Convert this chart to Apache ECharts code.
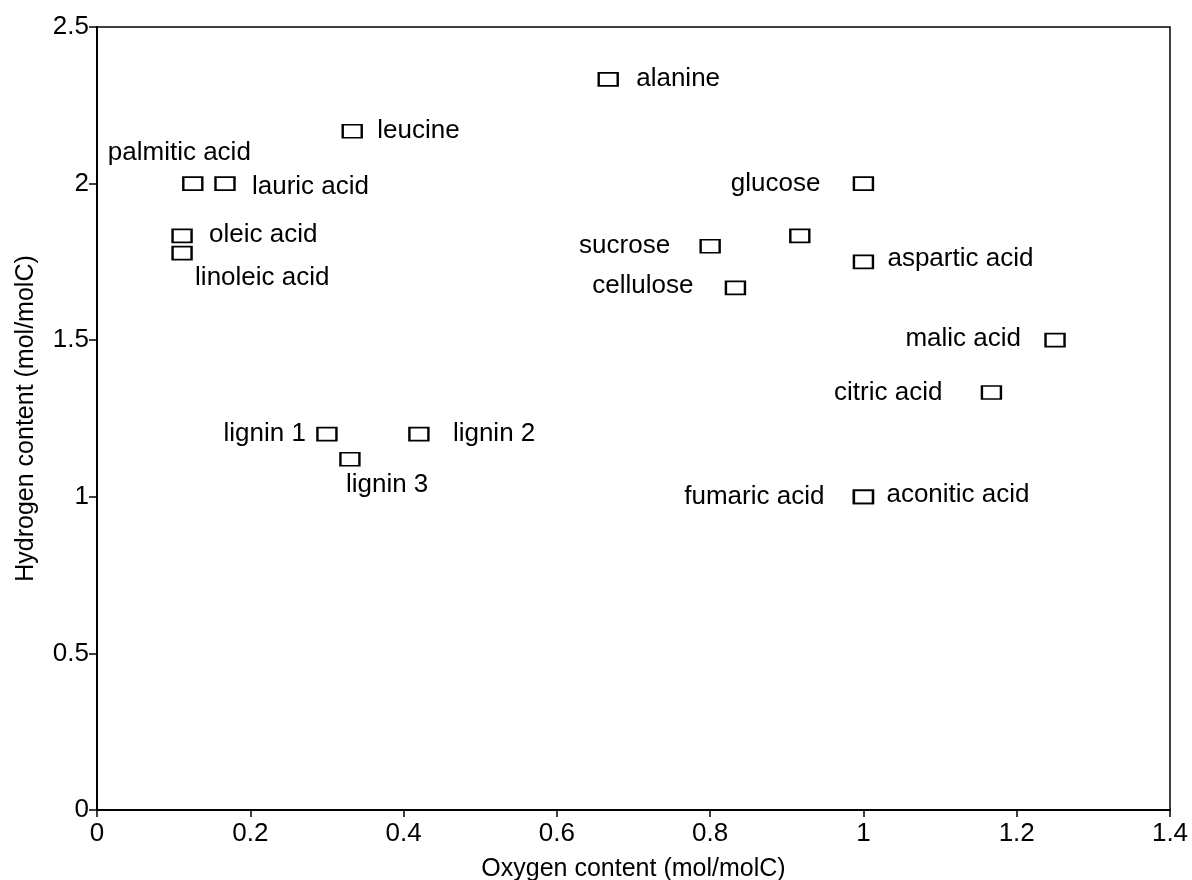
<!DOCTYPE html>
<html>
<head>
    <meta charset="utf-8">
    <title>ECharts</title>
    <script src="https://cdn.jsdelivr.net/npm/echarts@6/dist/echarts.min.js"></script>
</head>
<body style="margin:0">
    <div id="main" style="width:1192px; height:880px;"></div>

    <script type="text/javascript">

        // compounds, O/C and H/C in mol/molC
        var names = ['alanine', 'leucine', 'palmitic acid', 'lauric acid', 'oleic acid', 'linoleic acid',
                     'glucose', '', 'sucrose', 'cellulose', 'aspartic acid', 'malic acid', 'citric acid',
                     'fumaric acid', 'aconitic acid', 'lignin 1', 'lignin 2', 'lignin 3'];
        var oxygen = [0.667, 0.333, 0.125, 0.167, 0.111, 0.111,
                      1.0, 0.917, 0.8, 0.833, 1.0, 1.25, 1.167,
                      1.0, 1.0, 0.3, 0.42, 0.33];
        var hydrogen = [2.333, 2.167, 2.0, 2.0, 1.833, 1.778,
                        2.0, 1.833, 1.8, 1.667, 1.75, 1.5, 1.333,
                        1.0, 1.0, 1.2, 1.2, 1.12];

        // where each label sits around its marker: [align, dx, dy]
        var labelPlace = {
            'alanine': ['left', 28, 0],
            'leucine': ['left', 25, 0],
            'palmitic acid': ['left', -85, -31],
            'lauric acid': ['left', 27, 3],
            'oleic acid': ['left', 27, -1],
            'linoleic acid': ['left', 13, 25],
            'glucose': ['right', -43, 0],
            'sucrose': ['right', -40, 0],
            'cellulose': ['right', -42, -2],
            'aspartic acid': ['left', 24, -3],
            'malic acid': ['right', -34, -1],
            'citric acid': ['right', -49, 0],
            'fumaric acid': ['right', -39, 0],
            'aconitic acid': ['left', 23, -2],
            'lignin 1': ['right', -21, 0],
            'lignin 2': ['left', 34, 0],
            'lignin 3': ['left', -4, 26]
        };

        var font = 'Liberation Sans, Arial, Helvetica, sans-serif';

        var points = names.map(function(name, i) {
            var p = labelPlace[name];
            var item = {name: name, value: [oxygen[i], hydrogen[i]]};
            if (p) {
                item.label = {show: true, position: 'inside', align: p[0], verticalAlign: 'middle', offset: [p[1], p[2]]};
            } else {
                item.label = {show: false};
            }
            return item;
        });

        var myChart = echarts.init(document.getElementById('main'));

        myChart.setOption({
            animation: false,
            backgroundColor: '#fff',
            textStyle: {fontFamily: font},
            grid: {
                left: 97,
                right: 22,
                top: 27,
                bottom: 70,
                outerBoundsMode: 'none',
                containLabel: false,
                show: true,
                borderColor: '#000',
                borderWidth: 1.5,
                backgroundColor: 'transparent'
            },
            xAxis: {
                type: 'value',
                min: 0,
                max: 1.4,
                interval: 0.2,
                name: 'Oxygen content (mol/molC)',
                nameLocation: 'middle',
                nameGap: 47,
                nameTextStyle: {color: '#000', fontSize: 25, fontFamily: font},
                axisLine: {show: true, lineStyle: {color: '#000', width: 2}},
                axisTick: {show: true, length: 7, lineStyle: {color: '#000', width: 1.5}},
                axisLabel: {color: '#000', fontSize: 26, margin: 11, fontFamily: font},
                splitLine: {show: false}
            },
            yAxis: {
                type: 'value',
                min: 0,
                max: 2.5,
                interval: 0.5,
                name: 'Hydrogen content (mol/molC)',
                nameLocation: 'middle',
                nameGap: 58,
                nameTextStyle: {color: '#000', fontSize: 25, fontFamily: font},
                axisLine: {show: true, lineStyle: {color: '#000', width: 2}},
                axisTick: {show: true, length: 8, lineStyle: {color: '#000', width: 1.5}},
                axisLabel: {color: '#000', fontSize: 26, margin: 8, fontFamily: font},
                splitLine: {show: false}
            },
            series: [
                {
                    type: 'scatter',
                    symbol: 'rect',
                    symbolSize: [19, 13],
                    itemStyle: {color: '#fff', borderColor: '#000', borderWidth: 2, opacity: 1},
                    label: {color: '#000', fontSize: 26, fontFamily: font, formatter: '{b}'},
                    data: points
                }
            ]
        });
    </script>
</body>
</html>
